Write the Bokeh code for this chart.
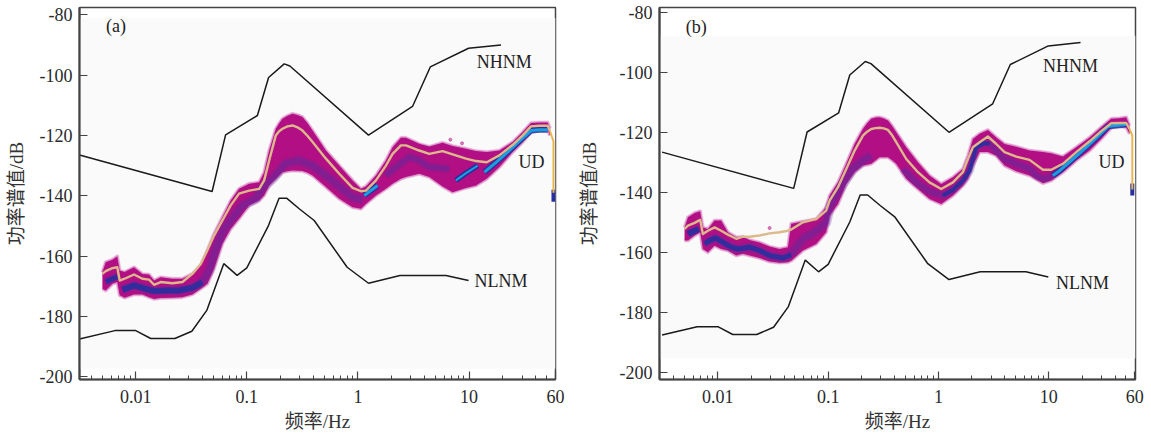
from bokeh.plotting import figure
from bokeh.layouts import row
from bokeh.models import FixedTicker, BoxAnnotation, Range1d
from bokeh.core.properties import value
from bokeh.embed import file_html
from bokeh.resources import INLINE

# Noise models: frequency (Hz), power (dB)
nhnm_f = [0.00312, 0.0487, 0.0644, 0.1245, 0.157, 0.217, 0.244, 1.245, 3.1, 4.48, 9.9, 19.4]
nhnm_db = [-126.5, -138.6, -119.8, -113.4, -100.8, -96.3, -97, -119.9, -110.4, -97.3, -91.1, -90]
nlnm_f = [0.00312, 0.0065, 0.01, 0.01365, 0.0225, 0.032, 0.0436, 0.062, 0.0818, 0.1, 0.157, 0.195, 0.228, 0.296, 0.404, 0.8, 1.245, 2.39, 6.2, 9.9]
nlnm_db = [-187.5, -184.7, -184.7, -187.3, -187.3, -184.9, -178, -162.5, -166.4, -163.9, -149.8, -140.8, -140.8, -144.3, -148.2, -163.7, -169, -166.4, -166.4, -168.1]

# Panel (a) density band and mean, log10 frequency
a_logf = [-2.30, -2.27, -2.21, -2.166, -2.144, -2.10, -2.015, -1.94, -1.88, -1.835, -1.775, -1.67, -1.58, -1.49, -1.415, -1.355, -1.295, -1.22, -1.145, -1.07,
          -0.979, -0.889, -0.844, -0.799, -0.739, -0.709, -0.679, -0.634, -0.589, -0.544, -0.499, -0.453, -0.408, -0.288, -0.168, -0.048, 0.027, 0.072, 0.162, 0.252, 0.312, 0.387,
          0.432, 0.552, 0.642, 0.762, 0.852, 0.973, 1.063, 1.159, 1.273, 1.393, 1.483, 1.558, 1.633, 1.708, 1.729]
a_top = [-165.3, -162, -161.2, -160.1, -164.8, -165.3, -163.7, -165.9, -166.1, -168.1, -167, -167.5, -167.5, -165.9, -163.1, -158.1, -152.6, -147.1, -141.6, -137.7,
         -136, -135.5, -132.2, -125, -117.8, -116, -114.5, -113.5, -112.8, -113.2, -113.9, -116, -118.4, -125, -130, -134.9, -137.7, -136.9, -133.3, -128.3, -123.9, -120.8,
         -120.8, -122.8, -123.7, -122.4, -123.5, -124.4, -125.2, -125.5, -125, -122.2, -118.9, -115.9, -115.7, -115.7, -117.8]
a_bot = [-170.8, -171.4, -169.2, -168.6, -173, -173.8, -172.7, -172.7, -173.6, -174.2, -173.9, -173.8, -173.6, -172.7, -170.8, -169.2, -164.2, -155.9, -151, -147.6,
         -143.2, -141.6, -139.9, -136.6, -134.4, -133.3, -132.2, -131.9, -131.6, -131.7, -131.8, -132.4, -133.3, -137.1, -141, -143.8, -144.3, -142.7, -139.9, -137.7, -136, -134.4,
         -133.8, -132.7, -133.8, -136.9, -138.8, -137.4, -136.6, -134.4, -130.5, -125.5, -122.2, -118.9, -118.1, -118.1, -120]
a_mean = [-165.9, -165, -164, -163.7, -168.1, -167.5, -166.1, -167.5, -167.8, -169.5, -168.6, -169, -168.6, -165.9, -162.6, -158.1, -153.2, -148.2, -143.2, -139.3,
          -138.3, -137.7, -134.9, -128.3, -120, -118.6, -117.8, -117, -116.7, -117.3, -118.4, -120.2, -122.2, -127.7, -132.7, -137.4, -138.5, -138.3, -134.9, -130, -126.1, -123.3,
          -123.3, -125, -126.1, -125.2, -126.3, -127.7, -128.5, -128.9, -126.6, -123.1, -120, -117, -116.8, -116.8, -118.6]
a_end_logf = [1.729, 1.76, 1.76]
a_end_db = [-118.6, -122, -139]
a_tail_db = [-138, -142]

# Panel (a) dense ridges
a_low_logf = [-2.27, -2.21, -2.166]
a_low_db = [-168.6, -167.5, -166.8]
a_ridge1_logf = [-2.12, -2.015, -1.94, -1.88, -1.82, -1.73, -1.61, -1.49, -1.40]
a_ridge1_db = [-171.2, -169.7, -170.5, -171.2, -171.6, -171.4, -171.4, -170.5, -168.6]
a_ridge2_logf = [-1.40, -1.34, -1.28, -1.21, -1.145, -1.04, -0.92, -0.859, -0.754, -0.649, -0.529, -0.408, -0.288, -0.168, -0.048, 0.042]
a_ridge2_db = [-168.6, -164.8, -157.6, -151.3, -148.2, -143.2, -141, -137.4, -133.8, -129.2, -128.3, -130, -133.3, -136.9, -140.5, -141.3]
a_ridge3_logf = [0.252, 0.342, 0.462, 0.552, 0.642, 0.822]
a_ridge3_db = [-133.3, -130.5, -127.2, -128.3, -130.5, -131.1]
a_blue_logf = [0.882, 0.973, 1.078]
a_blue_db = [-134.9, -132.5, -130]
a_cyan1_logf = [0.057, 0.177]
a_cyan1_db = [-139.9, -136.6]
a_cyan2_logf = [1.138, 1.243, 1.363, 1.468, 1.558, 1.633, 1.708]
a_cyan2_db = [-132.2, -128.9, -125, -121.4, -118.4, -118.1, -118.1]
a_spot_logf = [0.832, 0.937]
a_spot_db = [-121.4, -122.6]

# Panel (b) density band and mean
b_logf = [-2.302, -2.271, -2.211, -2.16, -2.136, -2.09, -2.03, -1.97, -1.909, -1.833, -1.773, -1.713, -1.622, -1.531, -1.441, -1.365, -1.335, -1.229, -1.108, -1.018,
          -0.987, -0.911, -0.836, -0.76, -0.685, -0.647, -0.609, -0.571, -0.534, -0.496, -0.458, -0.42, -0.383, -0.292, -0.186, -0.081, 0.025, 0.131, 0.221, 0.267, 0.312,
          0.373, 0.448, 0.524, 0.599, 0.705, 0.826, 0.947, 1.022, 1.128, 1.249, 1.37, 1.475, 1.566, 1.642, 1.702, 1.732]
b_top = [-151.6, -148.2, -146.8, -146.2, -151.6, -152.1, -149.3, -149.3, -153.2, -154.9, -154.7, -155.8, -156.6, -158, -158.8, -158.2, -150.4, -149.6, -148.8, -144.9,
         -141, -136.6, -130.4, -123.8, -118.8, -116.9, -115.4, -115, -114.9, -115.3, -116, -117.8, -119.9, -124.9, -129.9, -134.3, -137.1, -134.9, -132.1, -127.7, -122.1,
         -120.4, -119.1, -121.6, -123.8, -124.7, -126, -126.5, -126.9, -128, -124.9, -121.6, -118.2, -115.4, -115.2, -114.9, -117.7]
b_bot = [-156, -156, -154.3, -153.2, -158.8, -159.9, -157.7, -158.8, -159.3, -161, -160.4, -161, -161.8, -163, -163.4, -163.2, -162.7, -159.3, -157.1, -153.2,
         -147.7, -143.8, -137.1, -133.2, -131, -130.7, -130.4, -129.3, -128.2, -128.2, -128.2, -129.2, -130.4, -135.4, -138.8, -142.1, -143.8, -141, -137.7, -135.4, -131,
         -126.5, -126.5, -127.7, -131, -132.9, -134.3, -136.9, -136, -133.2, -129.3, -126, -122.1, -118.4, -118, -118.2, -120.4]
b_mean = [-152.1, -151, -150.1, -149.1, -153.8, -152.7, -151.6, -152.7, -154, -155.4, -154.7, -154.7, -154.3, -153.6, -153.2, -152.7, -152.3, -149.9, -148.8, -146,
          -142.7, -138.2, -132.1, -126, -121, -119.7, -118.8, -118.5, -118.4, -118.6, -119.1, -120.9, -123.2, -128.8, -133.2, -136.6, -138.8, -136.6, -133.2, -128.8, -124.9,
          -123.2, -121.3, -123.8, -126.5, -128, -129.1, -132.4, -132.4, -130.4, -126.5, -122.9, -119.5, -116.9, -116.8, -116.8, -118.8]
b_end_logf = [1.732, 1.757, 1.757]
b_end_db = [-118.8, -121, -139]
b_tail_db = [-137, -141]

# Panel (b) dense ridges
b_low_logf = [-2.271, -2.211, -2.172]
b_low_db = [-153.8, -152.7, -152.1]
b_ridge1_logf = [-2.12, -2.075, -2.021, -1.954, -1.879, -1.818, -1.713, -1.622, -1.531, -1.41, -1.335]
b_ridge1_db = [-157.1, -156, -155.1, -156.6, -158.2, -158.8, -158.2, -159.3, -161, -161.8, -160.7]
b_ridge2_logf = [-1.335, -1.229, -1.123, -1.018, -0.987, -0.866, -0.776, -0.685, -0.609]
b_ridge2_db = [-160.7, -155.4, -153.2, -149.9, -144.9, -137.1, -132.1, -129.3, -127.7]
b_ridge3_logf = [-0.322, -0.202, -0.081, 0.04, 0.131, 0.221, 0.282, 0.342, 0.418, 0.463, 0.599, 0.705, 0.826, 0.9, 0.962, 1.037]
b_ridge3_db = [-132.1, -136.6, -139.6, -141, -139.1, -136, -132.7, -124.9, -123.5, -123.8, -128.8, -130.4, -132.1, -134.7, -135.4, -134.3]
b_blue_logf = [0.04, 0.131, 0.221, 0.282, 0.342, 0.418, 0.463]
b_blue_db = [-141, -139.1, -136, -132.7, -124.9, -123.5, -123.8]
b_cyan_logf = [1.037, 1.098, 1.219, 1.339, 1.445, 1.536, 1.581, 1.702]
b_cyan_db = [-134.3, -132.7, -128.8, -124.9, -121.3, -118, -117.7, -117.3]
b_spot_logf = [-1.531]
b_spot_db = [-151.8]

# Axis ticks and labels
y_ticks = [-80, -100, -120, -140, -160, -180, -200]
x_ticks = [0.01, 0.1, 1, 10, 60]
x_labels = ["0.01", "0.1", "1", "10", "60"]
x_minor = [0.004, 0.005, 0.006, 0.007, 0.008, 0.009, 0.02, 0.03, 0.04, 0.05, 0.06, 0.07, 0.08, 0.09,
           0.2, 0.3, 0.4, 0.5, 0.6, 0.7, 0.8, 0.9, 2, 3, 4, 5, 6, 7, 8, 9, 20, 30, 40, 50]

SERIF = "Liberation Serif, Noto Sans CJK SC"
MAGENTA = "#b20f85"
BLUE = "#262f9f"
PURPLE = "#5d2a9c"
CYAN = "#1b9ede"
TAN = "#dcb98a"
AMBER = "#e8b850"


def f(vals):
    return [10 ** v for v in vals]


def panel(x_range, y_range, bg, left, right, ylabel_standoff, labels, band, ridges, blues, cyans, spots, end, tail):
    p = figure(x_axis_type="log", x_range=Range1d(*x_range), y_range=Range1d(*y_range),
               frame_width=476, frame_height=372, min_border_left=left, min_border_right=right,
               min_border_top=7, min_border_bottom=46, toolbar_location=None, output_backend="svg",
               background_fill_color="white", border_fill_color=None)
    p.grid.visible = False
    p.outline_line_color = "#444444"
    p.outline_line_width = 1.5
    p.add_layout(BoxAnnotation(bottom=bg[0], top=bg[1], fill_color="#fafafa", fill_alpha=1, line_color=None, level="underlay"))

    for ax in (p.xaxis[0], p.yaxis[0]):
        ax.axis_line_color = "#444444"
        ax.axis_line_width = 2.2
        ax.major_tick_line_color = "#444444"
        ax.major_tick_line_width = 1.2
        ax.major_tick_in = 8
        ax.major_tick_out = 0
        ax.major_label_text_font = SERIF
        ax.major_label_text_font_size = "18px"
        ax.major_label_text_color = "#2a2a2a"
        ax.axis_label_text_font = SERIF
        ax.axis_label_text_font_size = "19px"
        ax.axis_label_text_font_style = "normal"
        ax.axis_label_text_color = "#333333"
        ax.major_label_standoff = 7
    p.xaxis.major_label_standoff = 10
    p.xaxis.ticker = FixedTicker(ticks=x_ticks, minor_ticks=x_minor)
    p.xaxis.major_label_overrides = dict(zip(x_ticks, x_labels))
    p.xaxis.minor_tick_in = 4
    p.xaxis.minor_tick_out = 0
    p.xaxis.minor_tick_line_color = "#444444"
    p.xaxis.axis_label = "频率/Hz"
    p.xaxis.axis_label_standoff = 5
    p.yaxis.ticker = FixedTicker(ticks=y_ticks)
    p.yaxis.major_label_overrides = {t: str(t) for t in y_ticks}
    p.yaxis.minor_tick_line_color = None
    p.yaxis.axis_label = "功率谱值/dB"
    p.yaxis.axis_label_standoff = ylabel_standoff

    lx, top, bot, mean = band
    x = f(lx)
    # soft fringe, then the band body
    for w, alpha in ((4, 0.2), (2.5, 0.4)):
        p.line(x, top, line_color="#c23aa0", line_width=w, line_alpha=alpha, line_join="round")
        p.line(x, bot, line_color="#c23aa0", line_width=w, line_alpha=alpha, line_join="round")
    p.varea(x=x, y1=bot, y2=top, fill_color=MAGENTA)

    for rx, ry, w in ridges:
        p.line(f(rx), ry, line_color=PURPLE, line_width=w * 1.7, line_alpha=0.25, line_join="round")
        p.line(f(rx), ry, line_color=PURPLE, line_width=w * 1.0, line_alpha=0.4, line_join="round")
    for rx, ry, w in blues:
        p.line(f(rx), ry, line_color=BLUE, line_width=w, line_alpha=0.85, line_join="round")
    for rx, ry, w in cyans:
        p.line(f(rx), ry, line_color=BLUE, line_width=w + 3, line_alpha=0.85, line_join="round")
        p.line(f(rx), ry, line_color=CYAN, line_width=w, line_alpha=1, line_join="round")

    p.scatter(f(spots[0]), spots[1], size=3, color="#c8459f", alpha=0.7)

    # tail at the high-frequency end
    p.line(f([end[0][-1], end[0][-1]]), tail, line_color=BLUE, line_width=4)
    p.line(x, mean, line_color=TAN, line_width=2.4, line_join="round")
    p.line(f(end[0]), end[1], line_color=AMBER, line_width=2)

    p.line(nhnm_f, nhnm_db, line_color="#1a1a1a", line_width=1.5)
    p.line(nlnm_f, nlnm_db, line_color="#1a1a1a", line_width=1.5)

    lf, ldb, ltx = labels
    p.text(lf, ldb, text=ltx, text_font=value("Liberation Serif"), text_font_size="18px",
           text_color="#222222", text_align="center", text_baseline="middle")
    return p


pa = panel((10 ** -2.506, 60.01), (-200.9, -77.6), (-197.3, -81.2), 79, 14, 10,
           ([0.00665, 20.8, 19.4, 36.4], [-83.8, -95.8, -168.1, -128.9], ["(a)", "NHNM", "NLNM", "UD"]),
           (a_logf, a_top, a_bot, a_mean),
           [(a_ridge1_logf, a_ridge1_db, 6), (a_low_logf, a_low_db, 5), (a_ridge2_logf, a_ridge2_db, 6), (a_ridge3_logf, a_ridge3_db, 5)],
           [(a_low_logf, a_low_db, 5), (a_ridge1_logf, a_ridge1_db, 6), (a_blue_logf, a_blue_db, 5)],
           [(a_cyan1_logf, a_cyan1_db, 3), (a_blue_logf, a_blue_db, 2), (a_cyan2_logf, a_cyan2_db, 3)],
           (a_spot_logf, a_spot_db), (a_end_logf, a_end_db), a_tail_db)

pb = panel((10 ** -2.529, 10 ** 1.786), (-202.3, -78.3), (-195.3, -87.7), 90, 10, 17,
           ([0.00637, 15.7, 20.2, 37], [-84.7, -97.7, -170, -129.9], ["(b)", "NHNM", "NLNM", "UD"]),
           (b_logf, b_top, b_bot, b_mean),
           [(b_low_logf, b_low_db, 5), (b_ridge1_logf, b_ridge1_db, 6), (b_ridge2_logf, b_ridge2_db, 6), (b_ridge3_logf, b_ridge3_db, 5)],
           [(b_low_logf, b_low_db, 6), (b_ridge1_logf, b_ridge1_db, 5), (b_blue_logf, b_blue_db, 4)],
           [(b_cyan_logf, b_cyan_db, 3)],
           (b_spot_logf, b_spot_db), (b_end_logf, b_end_db), b_tail_db)

layout = row(pa, pb, spacing=0)
open("out.html", "w").write(file_html(layout, INLINE))
